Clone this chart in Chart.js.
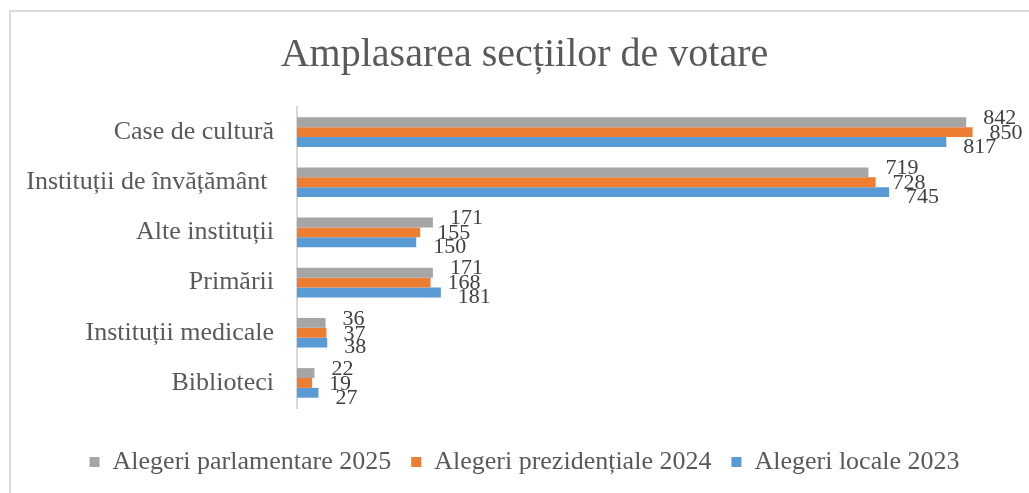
<!DOCTYPE html>
<html>
<head>
<meta charset="utf-8">
<script src="https://cdn.jsdelivr.net/npm/chart.js@4.4.1/dist/chart.umd.min.js"></script>
<style>
  html, body { margin: 0; padding: 0; background: #ffffff; }
  #wrap { width: 1029px; height: 493px; position: relative; }
</style>
</head>
<body>
<div id="wrap"><canvas id="c" width="1029" height="493"></canvas></div>
<script>
const chartTitle = "Amplasarea secțiilor de votare";
const categories = ["Case de cultură", "Instituții de învățământ ", "Alte instituții", "Primării", "Instituții medicale", "Biblioteci"];
const seriesNames = ["Alegeri parlamentare 2025", "Alegeri prezidențiale 2024", "Alegeri locale 2023"];
const parlamentare2025 = [842, 719, 171, 171, 36, 22];
const prezidentiale2024 = [850, 728, 155, 168, 37, 19];
const locale2023 = [817, 745, 150, 181, 38, 27];
const seriesColors = ["#a5a5a5", "#ed7d31", "#5b9bd5"];

const FONT = "'Liberation Serif', 'DejaVu Serif', serif";
const labelDy = [-4, 1, 5];

const framePlugin = {
  id: 'frame',
  beforeDraw(chart) {
    const ctx = chart.ctx;
    ctx.save();
    ctx.fillStyle = '#ffffff';
    ctx.fillRect(0, 0, chart.width, chart.height);
    ctx.strokeStyle = '#d9d9d9';
    ctx.lineWidth = 2;
    ctx.beginPath();
    ctx.moveTo(10, chart.height);
    ctx.lineTo(10, 11);
    ctx.lineTo(chart.width, 11);
    ctx.stroke();
    ctx.restore();
  }
};

const valueLabelPlugin = {
  id: 'valueLabels',
  afterDatasetsDraw(chart) {
    const ctx = chart.ctx;
    ctx.save();
    ctx.font = "22px " + FONT;
    ctx.fillStyle = '#404040';
    ctx.textAlign = 'left';
    ctx.textBaseline = 'middle';
    chart.data.datasets.forEach((ds, di) => {
      const meta = chart.getDatasetMeta(di);
      meta.data.forEach((bar, i) => {
        ctx.fillText(String(ds.data[i]), bar.x + 17, bar.y + labelDy[di]);
      });
    });
    ctx.restore();
  }
};

new Chart(document.getElementById('c'), {
  type: 'bar',
  data: {
    labels: categories,
    datasets: [
      { label: seriesNames[0], data: parlamentare2025, backgroundColor: seriesColors[0] },
      { label: seriesNames[1], data: prezidentiale2024, backgroundColor: seriesColors[1] },
      { label: seriesNames[2], data: locale2023, backgroundColor: seriesColors[2] }
    ]
  },
  options: {
    indexAxis: 'y',
    responsive: false,
    animation: false,
    devicePixelRatio: 1,
    categoryPercentage: 0.59,
    barPercentage: 1.0,
    layout: { padding: { left: 20, right: 0, top: 0, bottom: 8 } },
    scales: {
      x: {
        min: 0, max: 921,
        grid: { display: false },
        border: { display: false },
        ticks: { display: false },
        afterFit(scale) { scale.height = 21; }
      },
      y: {
        grid: { display: false, drawTicks: false },
        border: { display: true, color: '#d9d9d9', width: 2 },
        ticks: { color: '#595959', font: { family: FONT, size: 26 }, padding: 23 },
        afterFit(scale) { scale.width = 277; }
      }
    },
    plugins: {
      title: {
        display: true,
        text: chartTitle,
        color: '#595959',
        font: { family: FONT, size: 40, weight: 'normal' },
        padding: { top: 31, bottom: 28 }
      },
      legend: {
        position: 'bottom',
        labels: {
          color: '#595959',
          font: { family: FONT, size: 26 },
          boxWidth: 10,
          boxHeight: 10,
          padding: 20
        }
      },
      tooltip: { enabled: false }
    }
  },
  plugins: [framePlugin, valueLabelPlugin]
});
</script>
</body>
</html>
